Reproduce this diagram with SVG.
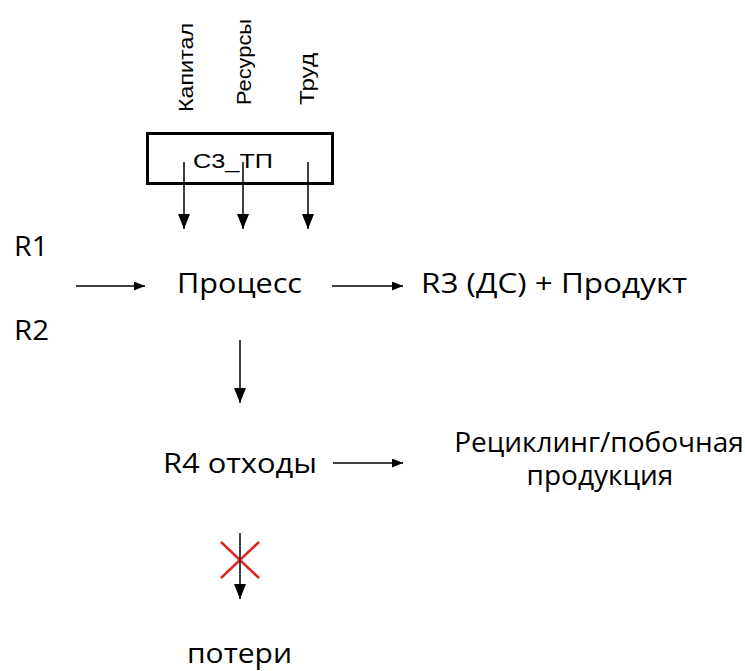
<svg xmlns="http://www.w3.org/2000/svg" width="745" height="671" viewBox="0 0 745 671">
  <defs>
    <style>
      .t { font-family: "Open Sans", "Noto Sans", "Liberation Sans", sans-serif; font-size: 28px; fill: #000; }
      .s { font-family: "Liberation Sans", Arial, sans-serif; font-size: 21px; fill: #000; }
      .ln { stroke: #000; stroke-width: 1.5; fill: none; }
      .box { fill: #fff; stroke: #000; stroke-width: 3; }
      .x { stroke: #e02424; stroke-width: 2.5; }
    </style>
    <marker id="ah" markerUnits="userSpaceOnUse" markerWidth="16" markerHeight="14" refX="15" refY="6" orient="auto">
      <path d="M0,0 L15,6 L0,12 Z" fill="#000"/>
    </marker>
    <marker id="ahs" markerUnits="userSpaceOnUse" markerWidth="12" markerHeight="10" refX="11" refY="4.5" orient="auto">
      <path d="M0,0 L11,4.5 L0,9 Z" fill="#000"/>
    </marker>
  </defs>
  <rect width="745" height="671" fill="#fff"/>

  <g id="label-kapital">
    <text class="s" transform="translate(193,112) rotate(-90)" textLength="89" lengthAdjust="spacingAndGlyphs">Капитал</text>
  </g>
  <g id="label-resursy">
    <text class="s" transform="translate(251,105) rotate(-90)" textLength="86" lengthAdjust="spacingAndGlyphs">Ресурсы</text>
  </g>
  <g id="label-trud">
    <text class="s" transform="translate(314,105) rotate(-90)" textLength="52" lengthAdjust="spacingAndGlyphs">Труд</text>
  </g>

  <g id="node-sz-tp">
    <rect class="box" x="147.5" y="133.5" width="185" height="50"/>
    <text class="s" x="193" y="168" font-size="23" textLength="80" lengthAdjust="spacingAndGlyphs">С3_ТП</text>
  </g>

  <g id="node-r1"><text class="t" x="14" y="256" font-size="26" textLength="34" lengthAdjust="spacingAndGlyphs">R1</text></g>
  <g id="node-r2"><text class="t" x="14" y="340" font-size="26" textLength="35" lengthAdjust="spacingAndGlyphs">R2</text></g>
  <g id="node-process"><text class="t" x="177" y="293" textLength="125" lengthAdjust="spacingAndGlyphs">Процесс</text></g>
  <g id="node-r3"><text class="t" x="421" y="293" textLength="266" lengthAdjust="spacingAndGlyphs">R3 (ДС) + Продукт</text></g>
  <g id="node-r4"><text class="t" x="163" y="473" textLength="154" lengthAdjust="spacingAndGlyphs">R4 отходы</text></g>
  <g id="node-recycling">
    <text class="t" font-size="23" text-anchor="middle"><tspan x="599" y="452">Рециклинг/побочная</tspan><tspan x="600" y="485">продукция</tspan></text>
  </g>
  <g id="node-poteri"><text class="t" x="187" y="663" font-size="26" textLength="105" lengthAdjust="spacingAndGlyphs">потери</text></g>

  <g id="connectors">
    <line class="ln" x1="184" y1="162" x2="184" y2="229" marker-end="url(#ah)"/>
    <line class="ln" x1="243" y1="162" x2="243" y2="229" marker-end="url(#ah)"/>
    <line class="ln" x1="308" y1="162" x2="308" y2="229" marker-end="url(#ah)"/>
    <line class="ln" x1="76" y1="286" x2="145" y2="286" marker-end="url(#ahs)"/>
    <line class="ln" x1="332" y1="286" x2="403" y2="286" marker-end="url(#ahs)"/>
    <line class="ln" x1="240" y1="340" x2="240" y2="403" marker-end="url(#ah)"/>
    <line class="ln" x1="333" y1="463" x2="403" y2="463" marker-end="url(#ahs)"/>
    <g id="blocked-mark">
      <line class="x" x1="221" y1="542" x2="259" y2="578"/>
      <line class="x" x1="259" y1="542" x2="221" y2="578"/>
    </g>
    <line class="ln" x1="240" y1="533" x2="240" y2="599" marker-end="url(#ah)"/>
  </g>
</svg>
